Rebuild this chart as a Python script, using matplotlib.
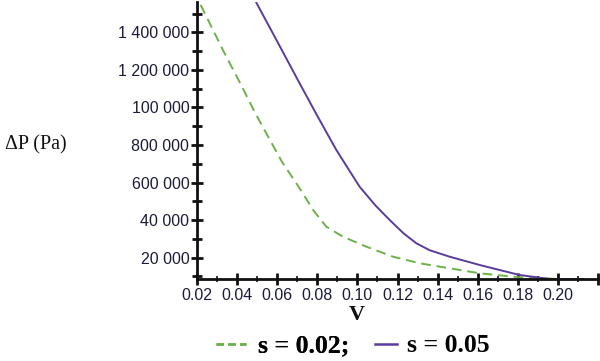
import matplotlib
matplotlib.use("Agg")
import matplotlib.pyplot as plt
from matplotlib.lines import Line2D
from matplotlib.ticker import FixedLocator, MultipleLocator

# Data
v_s002 = [0.0218, 0.0332, 0.0416, 0.0493, 0.0588, 0.0624, 0.0712, 0.0779, 0.0845,
          0.0928, 0.1045, 0.1178, 0.1311, 0.1460, 0.1610, 0.1809, 0.2008, 0.2124]
dp_s002 = [1546000, 1300000, 1128000, 965000, 780000, 710000, 569600, 454000, 365100,
           311800, 258600, 205300, 170200, 143600, 116900, 95600, 86600, 86600]

v_s005 = [0.0496, 0.0612, 0.0700, 0.0795, 0.0895, 0.1011, 0.1090, 0.1161,
          0.1230, 0.1294, 0.1360, 0.1460, 0.1610, 0.1809, 0.1959, 0.2124]
dp_s005 = [1558000, 1328000, 1152000, 965000, 773500, 578000, 478000, 400700,
           330000, 276700, 240000, 205300, 161100, 107900, 86600, 86600]

x_ticks = [0.02, 0.04, 0.06, 0.08, 0.10, 0.12, 0.14, 0.16, 0.18, 0.20]
x_ticklabels = ["0.02", "0.04", "0.06", "0.08", "0.10", "0.12", "0.14", "0.16", "0.18", "0.20"]
y_ticks = [200000, 400000, 600000, 800000, 1000000, 1200000, 1400000]
y_ticklabels = ["20 000", "40 000", "600 000", "800 000", "100 000", "1 200 000", "1 400 000"]
legend_labels = ["s = 0.02;", "s = 0.05"]

green = "#6cb24a"
purple = "#5b3c9b"
label_color = "#1c1c3a"

fig = plt.figure(figsize=(6.0, 3.61), dpi=100)
ax = fig.add_axes([197/600, 1-279/361, 401/600, 277/361])

ax.plot(v_s002, dp_s002, color=green, lw=1.4, ls=(0, (5, 3)), solid_joinstyle="round")
ax.plot(v_s005, dp_s005, color=purple, lw=1.4, solid_joinstyle="round")

ax.set_xlim(0.02, 0.22)
ax.set_ylim(86600, 1561500)

for s in ["top", "right"]:
    ax.spines[s].set_visible(False)
for s in ["left", "bottom"]:
    ax.spines[s].set_linewidth(2.0)
    ax.spines[s].set_color("#111111")

ax.xaxis.set_major_locator(FixedLocator(x_ticks + [0.22]))
ax.set_xticklabels(x_ticklabels + [""])
ax.xaxis.set_minor_locator(MultipleLocator(0.01))
ax.yaxis.set_major_locator(FixedLocator(y_ticks))
ax.set_yticklabels(y_ticklabels)
ax.yaxis.set_minor_locator(MultipleLocator(100000))

ax.tick_params(axis="both", which="major", direction="inout", length=9, width=2,
               color="#111111", labelcolor=label_color, labelsize=11.5)
ax.tick_params(axis="x", which="major", pad=2)
ax.tick_params(axis="y", which="major", pad=1)
ax.tick_params(axis="x", which="minor", direction="inout", length=4, width=1.2, color="#111111")
ax.tick_params(axis="y", which="minor", direction="inout", length=7, width=2, color="#111111")
for lab in ax.get_xticklabels() + ax.get_yticklabels():
    lab.set_fontfamily("Liberation Sans")

fig.text(0.008, 1-145/361, "ΔP (Pa)", family="Liberation Serif", fontsize=14.5,
         va="center", ha="left", color="#111111")
fig.text(357/600, 1-315/361, "V", family="Liberation Serif", fontsize=16,
         fontweight="bold", va="center", ha="center", color="#111111")

prop = {"family": "Liberation Serif", "weight": "bold", "size": 18.5}
h1 = Line2D([], [], color=green, lw=1.8, ls=(0, (3.0, 1.7)))
h2 = Line2D([], [], color=purple, lw=1.8)
leg1 = fig.legend([h1], [legend_labels[0]], loc="center left",
                  bbox_to_anchor=(216/600, 1-346/361), frameon=False, prop=prop,
                  borderpad=0, borderaxespad=0, handlelength=1.17, handletextpad=0.45)
leg2 = fig.legend([h2], [legend_labels[1]], loc="center left",
                  bbox_to_anchor=(375/600, 1-346/361), frameon=False, prop=prop,
                  borderpad=0, borderaxespad=0, handlelength=0.86, handletextpad=0.4)
fig.add_artist(leg1)

fig.savefig("out.png", dpi=100)
